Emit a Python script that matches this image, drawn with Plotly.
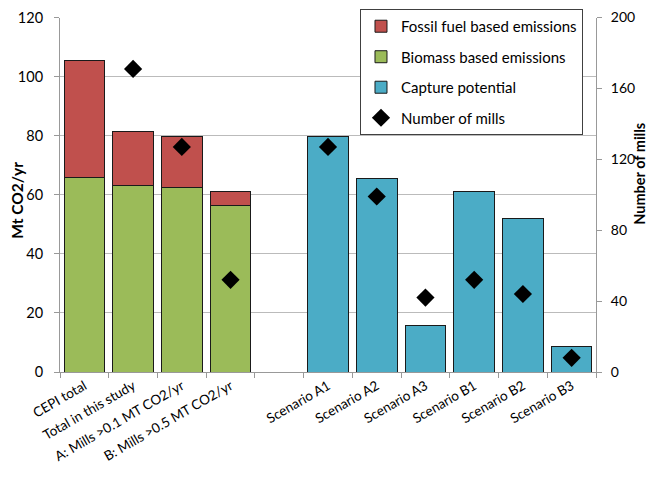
import plotly.graph_objects as go

categories = ["CEPI total", "Total in this study", "A: Mills >0.1 MT CO2/yr",
              "B: Mills >0.5 MT CO2/yr", " ", "Scenario A1", "Scenario A2",
              "Scenario A3", "Scenario B1", "Scenario B2", "Scenario B3"]

emission_cats = categories[:4]
biomass = [66.0, 63.0, 62.6, 56.4]
fossil = [39.5, 18.5, 17.2, 4.7]

capture_cats = categories[5:]
capture = [79.8, 65.6, 15.7, 61.1, 51.9, 8.5]

mills_cats = ["Total in this study", "A: Mills >0.1 MT CO2/yr", "B: Mills >0.5 MT CO2/yr",
              "Scenario A1", "Scenario A2", "Scenario A3", "Scenario B1", "Scenario B2", "Scenario B3"]
mills = [171, 127, 52, 127, 99, 42, 52, 44, 8]

FONT = "Lato"
line = dict(color="#1a1a1a", width=1)

fig = go.Figure()
fig.add_trace(go.Bar(x=emission_cats, y=biomass, name="Biomass based emissions",
                     marker=dict(color="#9BBB59", line=line), legendrank=2,
                     legendgroup="b"))
fig.add_trace(go.Bar(x=emission_cats, y=fossil, name="Fossil fuel based emissions",
                     marker=dict(color="#C0504D", line=line), legendrank=1,
                     legendgroup="a"))
fig.add_trace(go.Bar(x=capture_cats, y=capture, name="Capture potential",
                     marker=dict(color="#4BACC6", line=line), legendrank=3,
                     legendgroup="c"))
fig.add_trace(go.Scatter(x=mills_cats, y=mills, name="Number of mills", mode="markers",
                         marker=dict(symbol="diamond", size=14, color="black"),
                         yaxis="y2", legendrank=4, legendgroup="d"))

# page body adds an 8px margin; figure sized so the page needs no scrollbars
fig.update_layout(
    width=642, height=461,
    margin=dict(l=52, r=54, t=0, b=96.5),
    barmode="stack", bargap=0.165,
    plot_bgcolor="white", paper_bgcolor="white",
    font=dict(family=FONT, size=14, color="#000000"),
    showlegend=True,
    legend=dict(x=0.5597, y=0.9973, xanchor="left", yanchor="top",
                traceorder="grouped", tracegroupgap=8,
                bgcolor="white", bordercolor="#404040", borderwidth=1,
                font=dict(family=FONT, size=15), itemwidth=30),
    xaxis=dict(type="category", categoryorder="array", categoryarray=categories,
               tickson="boundaries", ticks="outside", ticklen=5, tickcolor="#999999",
               showline=True, linecolor="#999999", tickangle=-30, automargin=False,
               tickfont=dict(size=13.5), showgrid=False, range=[-0.5, 10.5]),
    yaxis=dict(range=[0, 120], dtick=20, showline=True, linecolor="#999999",
               domain=[0, 0.9739], ticklabeloverflow="allow",
               ticks="outside", ticklen=5, tickcolor="#999999", automargin=False,
               ticklabelstandoff=8,
               gridcolor="#BBBBBB", gridwidth=1, tickfont=dict(size=14.5),
               zeroline=False),
    yaxis2=dict(range=[0, 200], dtick=40, overlaying="y", side="right",
                showline=True, linecolor="#999999", ticks="outside", ticklen=5,
                tickcolor="#999999", showgrid=False, tickfont=dict(size=14),
                automargin=False, ticklabelstandoff=6, ticklabeloverflow="allow",
                zeroline=False),
    annotations=[
        dict(text="<b>Mt CO2/yr</b>", xref="paper", yref="paper", x=0, y=0.4705,
             xshift=-43, textangle=-90, showarrow=False, font=dict(size=15.5),
             xanchor="center", yanchor="middle"),
        dict(text="<b>Number of mills</b>", xref="paper", yref="paper", x=1, y=0.5446,
             xshift=44, textangle=-90, showarrow=False, font=dict(size=14.5),
             xanchor="center", yanchor="middle"),
    ],
)

fig.write_html("out.html")
